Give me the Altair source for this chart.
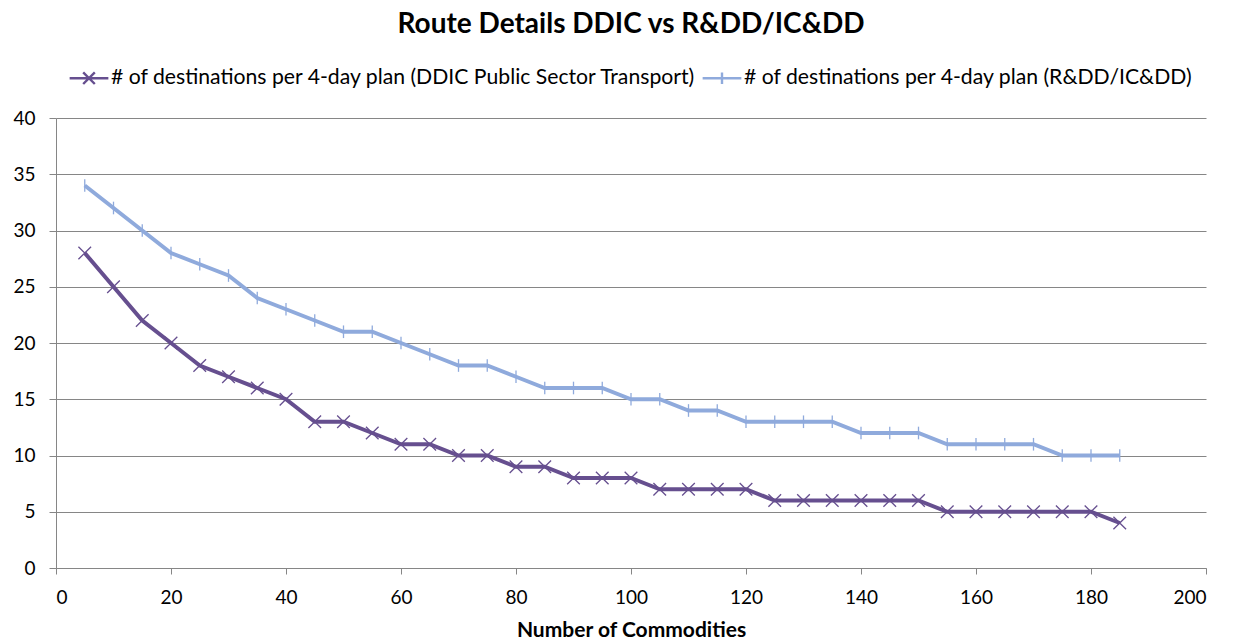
import altair as alt
import pandas as pd

commodities = list(range(5, 190, 5))
ddic = [28, 25, 22, 20, 18, 17, 16, 15, 13, 13, 12, 11, 11, 10, 10, 9, 9, 8, 8, 8,
        7, 7, 7, 7, 6, 6, 6, 6, 6, 6, 5, 5, 5, 5, 5, 5, 4]
rdd = [34, 32, 30, 28, 27, 26, 24, 23, 22, 21, 21, 20, 19, 18, 18, 17, 16, 16, 16, 15,
       15, 14, 14, 13, 13, 13, 13, 12, 12, 12, 11, 11, 11, 11, 10, 10, 10]
series_names = ["# of destinations per 4-day plan (DDIC Public Sector Transport)",
                "# of destinations per 4-day plan (R&DD/IC&DD)"]
colors = ["#664F8F", "#8FAADC"]

rows = []
for x, a, b in zip(commodities, ddic, rdd):
    rows.append({"x": x, "y": a, "s": series_names[0], "lg": series_names[0]})
    rows.append({"x": x, "y": b, "s": series_names[1], "lg": series_names[1]})
df = pd.DataFrame(rows)

FONT = "Lato"

x_enc = alt.X("x:Q", scale=alt.Scale(domain=[0, 200], nice=False),
              axis=alt.Axis(values=list(range(0, 201, 20)), title="Number of Commodities",
                            grid=False, tickSize=6, labelPadding=14, titlePadding=12))
y_enc = alt.Y("y:Q", scale=alt.Scale(domain=[0, 40], nice=False),
              axis=alt.Axis(values=list(range(0, 41, 5)), title=None, grid=True,
                            tickSize=7, labelPadding=14))

line = alt.Chart(df).mark_line(strokeWidth=4).encode(
    x=x_enc, y=y_enc,
    color=alt.Color("s:N", scale=alt.Scale(domain=series_names, range=colors), legend=None),
    detail="s:N")

points = alt.Chart(df).mark_point(filled=False, size=160, strokeWidth=1.3, opacity=1).encode(
    x="x:Q", y="y:Q",
    color=alt.Color("s:N", scale=alt.Scale(domain=series_names, range=colors), legend=None),
    shape=alt.Shape("s:N", scale=alt.Scale(domain=series_names,
                                           range=["M-1,-1L1,1M-1,1L1,-1",
                                                  "M0,-1L0,1"]),
                    legend=None),
)

leg = alt.Legend(orient="none", legendX=12, legendY=-61,
                 direction="horizontal", title=None,
                 labelFont=FONT, labelFontSize=21.2, labelColor="#000",
                 symbolStrokeWidth=2.4, symbolSize=1500,
                 symbolOpacity=1, symbolFillColor="transparent",
                 columnPadding=0, labelOffset=1, labelLimit=800)

legend_layer = alt.Chart(df).mark_point(filled=False, opacity=0).encode(
    x="x:Q", y="y:Q",
    color=alt.Color("lg:N", scale=alt.Scale(domain=series_names, range=colors), legend=leg),
    shape=alt.Shape("lg:N", scale=alt.Scale(domain=series_names,
                                            range=["M-1,0L1,0M-0.3,-0.3L0.3,0.3M-0.3,0.3L0.3,-0.3",
                                                   "M-1,0L1,0M0,-0.3L0,0.3"]),
                    legend=leg),
)

chart = alt.layer(line, points, legend_layer).resolve_scale(
    color="independent", shape="independent"
).properties(
    width=1150, height=450,
    padding={"left": 56, "top": 118, "right": 29, "bottom": 75},
    autosize=alt.AutoSizeParams(type="none"),
    title=alt.TitleParams("Route Details DDIC vs R&DD/IC&DD", font=FONT, fontSize=28,
                          fontWeight="bold", color="#000", anchor="middle", offset=18),
).configure_view(stroke=None).configure_axis(
    labelFont=FONT, labelFontSize=19, labelColor="#000",
    titleFont=FONT, titleFontSize=21, titleFontWeight="bold", titleColor="#000",
    domainColor="#868686", tickColor="#868686", gridColor="#868686", gridWidth=1,
)

chart.save("out.html", embed_options={"renderer": "svg", "actions": False})
